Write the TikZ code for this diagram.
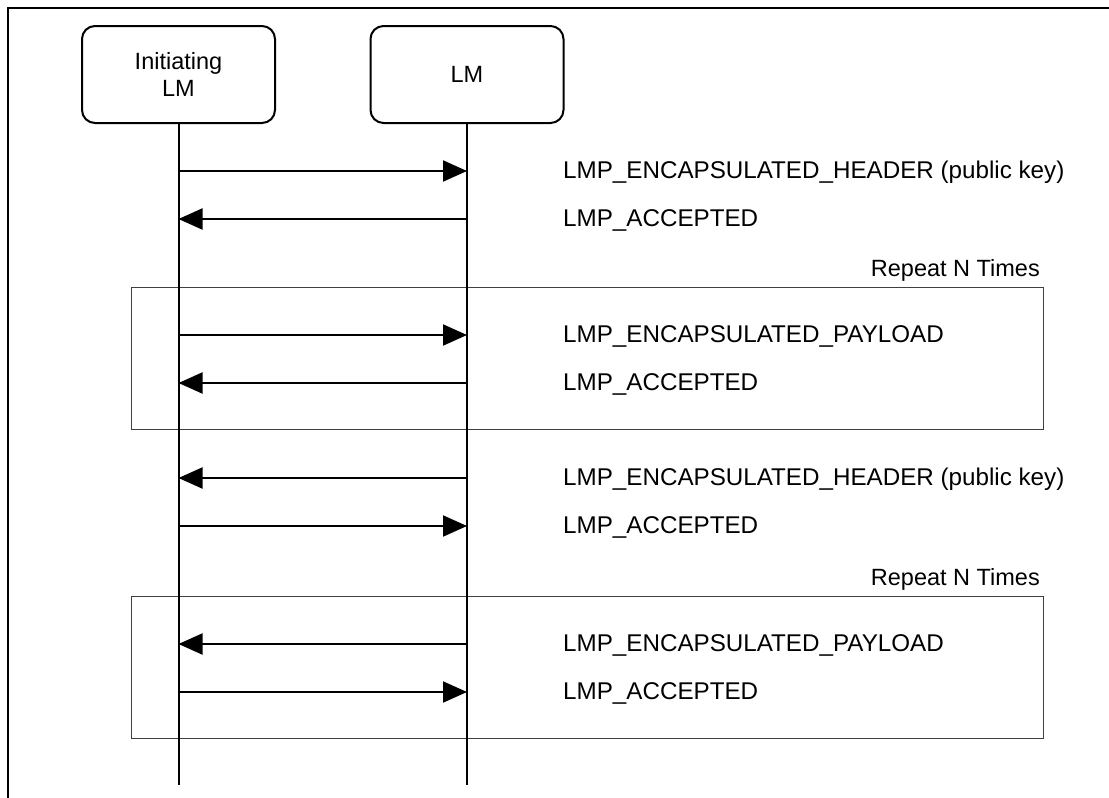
\documentclass[tikz,border=0pt]{standalone}
\usepackage{fontspec}
\setmainfont{Liberation Sans}
\usetikzlibrary{arrows.meta}
\begin{document}
\begin{tikzpicture}[x=1pt,y=-1pt,
  every node/.style={font=\fontsize{23.5}{27}\selectfont},
  head/.style={draw, line width=2pt, rounded corners=13pt, minimum width=193pt,
    minimum height=97pt, align=center, inner sep=0pt},
  life/.style={line width=2pt},
  msg/.style={line width=2pt, -{Triangle[length=24pt,width=21pt]}},
  lbl/.style={anchor=base west, inner sep=0pt, font=\fontsize{24.2}{28}\selectfont},
  replbl/.style={anchor=base east, inner sep=0pt},
  loopbox/.style={draw=black!75, line width=1.2pt, anchor=north west,
    minimum width=912pt, minimum height=142pt, inner sep=0pt},
  frameline/.style={line width=2pt}]
\useasboundingbox (0,0) rectangle (1109,798);
\draw[frameline] (1109,8) -- (8,8) -- (8,798);

% repeat boxes
\node[loopbox] (r1) at (131,287) {};
\node[loopbox] (r2) at (131,596) {};
\node[replbl] (t1) at (1040,276) {Repeat N Times};
\node[replbl] (t2) at (1040,585) {Repeat N Times};

% heads and lifelines
\node[head] (A) at (178.5,74.5) {Initiating\\LM};
\node[head] (B) at (467,74.5) {LM};
\coordinate (Aend) at (178.5,785);
\coordinate (Bend) at (467,785);
\draw[life] (A.south) -- (Aend);
\draw[life] (B.south) -- (Bend);

% message anchors on lifelines
\foreach \i/\y in {1/171,2/219,3/335,4/383,5/478,6/526,7/644,8/692}{
  \coordinate (a\i) at (178.5,\y);
  \coordinate (b\i) at (467,\y);
}
\draw[msg] (a1) -- (b1);
\draw[msg] (b2) -- (a2);
\draw[msg] (a3) -- (b3);
\draw[msg] (b4) -- (a4);
\draw[msg] (b5) -- (a5);
\draw[msg] (a6) -- (b6);
\draw[msg] (b7) -- (a7);
\draw[msg] (a8) -- (b8);

% labels
\node[lbl] (m1) at (563,178) {LMP\_ENCAPSULATED\_HEADER (public key)};
\node[lbl] (m2) at (563,226) {LMP\_ACCEPTED};
\node[lbl] (m3) at (563,342) {LMP\_ENCAPSULATED\_PAYLOAD};
\node[lbl] (m4) at (563,390) {LMP\_ACCEPTED};
\node[lbl] (m5) at (563,485) {LMP\_ENCAPSULATED\_HEADER (public key)};
\node[lbl] (m6) at (563,533) {LMP\_ACCEPTED};
\node[lbl] (m7) at (563,651) {LMP\_ENCAPSULATED\_PAYLOAD};
\node[lbl] (m8) at (563,699) {LMP\_ACCEPTED};
\end{tikzpicture}
\end{document}
